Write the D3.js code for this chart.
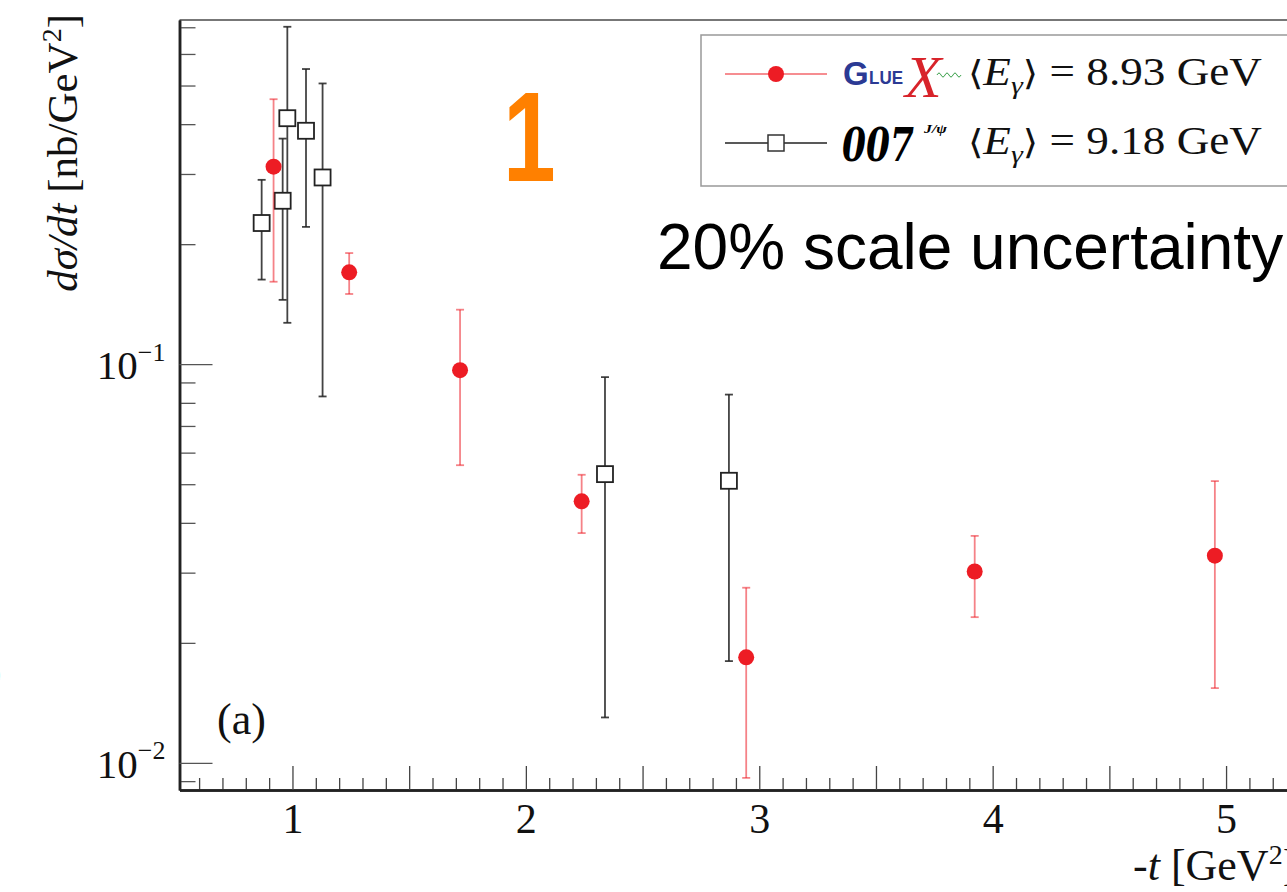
<!DOCTYPE html>
<html>
<head>
<meta charset="utf-8">
<script src="https://cdn.jsdelivr.net/npm/d3@7"></script>
<style>
  html, body { margin: 0; padding: 0; background: #fff; overflow: hidden; }
  svg { display: block; }
</style>
</head>
<body>
<svg id="chart" width="1287" height="892"></svg>
<script>
// ---- data ----
const gluexT   = [0.919, 1.243, 1.718, 2.239, 2.944, 3.923, 4.952];
const gluexVal = [0.313, 0.170, 0.0966, 0.0453, 0.0184, 0.0302, 0.0331];
const gluexHi  = [0.462, 0.190, 0.137, 0.0528, 0.0275, 0.0371, 0.0509];
const gluexLo  = [0.161, 0.150, 0.0558, 0.0377, 0.00917, 0.0232, 0.0154];

const j007T    = [0.868, 0.958, 0.978, 1.058, 1.129, 2.339, 2.870];
const j007Val  = [0.226, 0.257, 0.414, 0.385, 0.294, 0.0530, 0.0510];
const j007Hi   = [0.290, 0.368, 0.702, 0.550, 0.506, 0.0928, 0.0839];
const j007Lo   = [0.163, 0.145, 0.127, 0.221, 0.0830, 0.0130, 0.0180];

const xTickLabels = [1, 2, 3, 4, 5];
const yTickValues = [0.01, 0.1];
const yTickExponents = ["\u22122", "\u22121"];
const legendLabels = ["8.93 GeV", "9.18 GeV"];

// ---- scales ----
const svg = d3.select("#chart");
const X0 = 179.5, X1 = 1340, Y0 = 790, Y1 = 20;
const xMin = 0.516, xMax = xMin + (X1 - X0) / 233.4;
const x = d3.scaleLinear().domain([xMin, xMax]).range([X0, X1]);
const y = d3.scaleLog().domain([0.00855, 0.73]).range([Y0, Y1]);

const serif = "'Liberation Serif','Times New Roman',Times,serif";
const sans = "'Liberation Sans',Arial,Helvetica,sans-serif";

// ---- frame ----
svg.append("line").attr("x1", X0).attr("x2", 1287).attr("y1", Y1).attr("y2", Y1)
  .attr("stroke", "#777").attr("stroke-width", 2);

// x axis ticks (inward)
const xMinor = d3.range(6, 54).map(d => d / 10).filter(v => v > xMin);
const xMinorOnly = xMinor.filter(v => Math.abs(v * 2 - Math.round(v * 2)) > 1e-6);
const xMajor = xMinor.filter(v => Math.abs(v * 2 - Math.round(v * 2)) < 1e-6);
const gx1 = svg.append("g").attr("transform", `translate(0,${Y0})`)
  .call(d3.axisBottom(x).tickValues(xMinorOnly).tickSizeInner(-12).tickSizeOuter(0).tickFormat(""));
const gx2 = svg.append("g").attr("transform", `translate(0,${Y0})`)
  .call(d3.axisBottom(x).tickValues(xMajor).tickSizeInner(-24).tickSizeOuter(0).tickFormat(""));
[gx1, gx2].forEach(g => {
  g.select(".domain").attr("stroke", "#222").attr("stroke-width", 2.5);
  g.selectAll(".tick line").attr("stroke", "#444").attr("stroke-width", 1.3);
});
const gxl = svg.append("g").attr("transform", `translate(0,${Y0})`)
  .call(d3.axisBottom(x).tickValues(xTickLabels).tickSize(0).tickPadding(13).tickFormat(d3.format("d")));
gxl.select(".domain").remove();
gxl.selectAll("text").attr("font-family", serif).attr("font-size", 42).attr("fill", "#111");

// y axis ticks (inward)
const yMinor = [];
[0.001, 0.01, 0.1].forEach(dec => { for (let k = 2; k <= 9; k++) yMinor.push(+(k * dec).toPrecision(3)); });
const yMinorIn = yMinor.filter(v => v >= 0.00855 && v <= 0.73);
const gy1 = svg.append("g").attr("transform", `translate(${X0},0)`)
  .call(d3.axisLeft(y).tickValues(yMinorIn).tickSizeInner(-16).tickSizeOuter(0).tickFormat(""));
const gy2 = svg.append("g").attr("transform", `translate(${X0},0)`)
  .call(d3.axisLeft(y).tickValues(yTickValues).tickSizeInner(-33).tickSizeOuter(0).tickFormat(""));
[gy1, gy2].forEach(g => {
  g.select(".domain").attr("stroke", "#222").attr("stroke-width", 2.5);
  g.selectAll(".tick line").attr("stroke", "#555").attr("stroke-width", 1.3);
});
// y tick labels 10^n
const gyl = svg.append("g").attr("transform", `translate(${X0},0)`)
  .call(d3.axisLeft(y).tickValues(yTickValues).tickSize(0).tickPadding(14).tickFormat(""));
gyl.select(".domain").remove();
gyl.selectAll(".tick").each(function(d, i) {
  const t = d3.select(this).select("text")
    .attr("font-family", serif).attr("font-size", 41).attr("fill", "#111")
    .attr("text-anchor", "end").attr("dy", "0.36em");
  t.text(null);
  t.append("tspan").text("10");
  t.append("tspan").attr("font-size", 26).attr("dy", "-0.72em").text(yTickExponents[i]);
});

// ---- axis titles ----
const yt = svg.append("text").attr("transform", "translate(77,14) rotate(-90)")
  .attr("text-anchor", "end").attr("font-family", serif).attr("font-size", 43).attr("fill", "#111");
yt.append("tspan").attr("font-style", "italic").text("d\u03C3/dt");
yt.append("tspan").text(" [nb/GeV");
yt.append("tspan").attr("font-size", 28).attr("dy", -16).text("2");
yt.append("tspan").attr("dy", 16).text("]");

const xt = svg.append("text").attr("x", 1133).attr("y", 880)
  .attr("font-family", serif).attr("font-size", 44).attr("fill", "#111");
xt.append("tspan").text("-");
xt.append("tspan").attr("font-style", "italic").text("t");
xt.append("tspan").text(" [GeV");
xt.append("tspan").attr("font-size", 28).attr("dy", -16).text("2");
xt.append("tspan").attr("dy", 16).text("]");

// ---- data marks ----
const red = "#ed1c24";
function errBars(T, V, Hi, Lo, color, op) {
  const g = svg.append("g").attr("stroke", color).attr("stroke-opacity", op).attr("stroke-width", 1.8);
  T.forEach((t, i) => {
    const cx = x(t);
    g.append("line").attr("x1", cx).attr("x2", cx).attr("y1", y(Hi[i])).attr("y2", y(Lo[i]));
    g.append("line").attr("x1", cx - 4).attr("x2", cx + 4).attr("y1", y(Hi[i])).attr("y2", y(Hi[i]));
    g.append("line").attr("x1", cx - 4).attr("x2", cx + 4).attr("y1", y(Lo[i])).attr("y2", y(Lo[i]));
  });
}
errBars(j007T, j007Val, j007Hi, j007Lo, "#222", 0.85);
svg.append("g").selectAll("rect").data(j007T).join("rect")
  .attr("x", d => x(d) - 8).attr("y", (d, i) => y(j007Val[i]) - 8)
  .attr("width", 16).attr("height", 16)
  .attr("fill", "#fff").attr("stroke", "#222").attr("stroke-width", 1.8);

errBars(gluexT, gluexVal, gluexHi, gluexLo, red, 0.55);
svg.append("g").selectAll("circle").data(gluexT).join("circle")
  .attr("cx", d => x(d)).attr("cy", (d, i) => y(gluexVal[i])).attr("r", 8)
  .attr("fill", red);

// ---- legend ----
const lg = svg.append("g");
lg.append("rect").attr("x", 701).attr("y", 35).attr("width", 640).attr("height", 151)
  .attr("fill", "#fff").attr("stroke", "#999").attr("stroke-width", 1.5);
// row 1
lg.append("line").attr("x1", 725).attr("x2", 827).attr("y1", 74).attr("y2", 74)
  .attr("stroke", red).attr("stroke-opacity", 0.5).attr("stroke-width", 1.8);
lg.append("circle").attr("cx", 776).attr("cy", 74).attr("r", 8).attr("fill", red);
// GlueX logo approximation
lg.append("text").attr("x", 843).attr("y", 85).attr("font-family", sans).attr("font-weight", "bold")
  .attr("font-size", 33).attr("fill", "#2b3a94").text("G");
lg.append("text").attr("x", 869).attr("y", 84).attr("font-family", sans).attr("font-weight", "bold")
  .attr("font-size", 19).attr("textLength", 34).attr("lengthAdjust", "spacingAndGlyphs")
  .attr("fill", "#2b3a94").text("LUE");
lg.append("text").attr("x", 905).attr("y", 97).attr("font-family", serif).attr("font-style", "italic")
  .attr("font-size", 60).attr("fill", "#d8232a").text("X");
lg.append("path").attr("d", "M937,75 q2,-4 4,0 t4,0 t4,0 t4,0 t4,0 t4,0")
  .attr("fill", "none").attr("stroke", "#3aa04a").attr("stroke-width", 1);
// row 2
lg.append("line").attr("x1", 725).attr("x2", 827).attr("y1", 143).attr("y2", 143)
  .attr("stroke", "#222").attr("stroke-width", 1.5);
lg.append("rect").attr("x", 768).attr("y", 135).attr("width", 16).attr("height", 16)
  .attr("fill", "#fff").attr("stroke", "#333").attr("stroke-width", 1.5);
lg.append("text").attr("x", 842).attr("y", 161).attr("font-family", "'DejaVu Serif',serif")
  .attr("font-style", "italic").attr("font-weight", "bold").attr("font-size", 46)
  .attr("textLength", 72).attr("lengthAdjust", "spacingAndGlyphs").attr("fill", "#000").text("007");
lg.append("text").attr("x", 924).attr("y", 133).attr("font-family", serif)
  .attr("font-style", "italic").attr("font-weight", "bold").attr("font-size", 12)
  .attr("textLength", 23).attr("lengthAdjust", "spacingAndGlyphs").attr("fill", "#000").text("J/\u03C8");
// energy labels
[85, 154].forEach((by, i) => {
  const t = lg.append("text").attr("x", 968).attr("y", by).attr("font-family", serif)
    .attr("font-size", 39).attr("fill", "#111")
    .attr("textLength", 294).attr("lengthAdjust", "spacingAndGlyphs");
  t.append("tspan").attr("font-family", "'DejaVu Serif',serif").attr("font-size", 34).text("\u27E8");
  t.append("tspan").attr("font-style", "italic").text("E");
  t.append("tspan").attr("font-style", "italic").attr("font-size", 26).attr("dy", 9).text("\u03B3");
  t.append("tspan").attr("dy", -9).attr("font-family", "'DejaVu Serif',serif").attr("font-size", 34).text("\u27E9");
  t.append("tspan").text(" = " + legendLabels[i]);
});

// ---- annotations ----
svg.append("text").attr("transform", "translate(503,181) scale(0.74,1)").attr("font-family", sans).attr("font-weight", "bold")
  .attr("font-size", 128).attr("fill", "#ff8000").text("1");
svg.append("text").attr("x", 657).attr("y", 269).attr("font-family", sans)
  .attr("font-size", 64).attr("fill", "#000").text("20% scale uncertainty");
svg.append("text").attr("x", 217).attr("y", 734).attr("font-family", serif)
  .attr("font-size", 44).attr("fill", "#111").text("(a)");
svg.append("text").attr("x", -9).attr("y", 683).attr("font-family", serif)
  .attr("font-size", 30).attr("fill", "#111").text(")");
</script>
</body>
</html>
